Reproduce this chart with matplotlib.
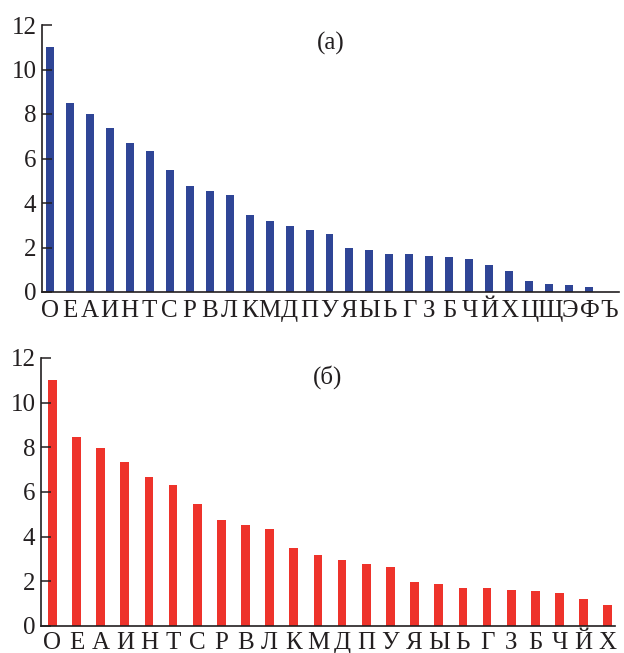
import matplotlib
matplotlib.use("Agg")
import matplotlib.pyplot as plt
import numpy as np

letters_a = ["О", "Е", "А", "И", "Н", "Т", "С", "Р", "В", "Л", "К", "М", "Д", "П",
             "У", "Я", "Ы", "Ь", "Г", "З", "Б", "Ч", "Й", "Х", "Ц", "Щ", "Э", "Ф", "Ъ"]
values_a = [11.0, 8.49, 8.01, 7.38, 6.71, 6.32, 5.47, 4.75, 4.53, 4.35, 3.48, 3.19,
            2.97, 2.79, 2.62, 1.98, 1.89, 1.72, 1.69, 1.63, 1.57, 1.47, 1.20, 0.94,
            0.48, 0.36, 0.30, 0.24, 0.0]

letters_b = letters_a[:24]
values_b = [11.0, 8.47, 7.98, 7.36, 6.69, 6.31, 5.47, 4.75, 4.53, 4.35, 3.48, 3.19,
            2.97, 2.79, 2.62, 1.98, 1.89, 1.72, 1.69, 1.63, 1.57, 1.47, 1.20, 0.94]

yticks = [0, 2, 4, 6, 8, 10, 12]

plt.rcParams['font.family'] = ['Liberation Serif', 'DejaVu Serif']
plt.rcParams['font.size'] = 18

W, H = 624, 653
fig = plt.figure(figsize=(W / 100, H / 100), dpi=100)

def style(ax, letters, xlim, label, xpad):
    ax.set_ylim(0, 12)
    ax.set_xlim(*xlim)
    ax.set_yticks(yticks)
    ax.set_xticks(np.arange(len(letters)))
    ax.set_xticklabels(letters)
    for s in ['top', 'right']:
        ax.spines[s].set_visible(False)
    for s in ['left', 'bottom']:
        ax.spines[s].set_linewidth(1.2)
        ax.spines[s].set_color('#231f20')
    ax.tick_params(axis='y', direction='in', length=7, width=1.1, colors='#231f20',
                   labelcolor='#231f20', pad=4)
    ax.tick_params(axis='x', length=0, pad=xpad, labelcolor='#231f20')
    ax.text(0.5, 0.93, label, transform=ax.transAxes, ha='center', va='center',
            color='#231f20')

# top axes: x 42..619, y 25..292
ax1 = fig.add_axes([42 / W, 1 - 292 / H, (619 - 42) / W, (292 - 25) / H])
ax1.bar(np.arange(len(letters_a)), values_a, width=0.4, color='#2f4596')
style(ax1, letters_a, (-0.38, 28.48), "(а)", 6)

# bottom axes: x 41..615, y 358..626
ax2 = fig.add_axes([41 / W, 1 - 626 / H, (615 - 41) / W, (626 - 358) / H])
ax2.bar(np.arange(len(letters_b)), values_b, width=0.36, color='#ee332b')
style(ax2, letters_b, (-0.47, 23.3), "(б)", 4)

fig.savefig("out.png", dpi=100)
